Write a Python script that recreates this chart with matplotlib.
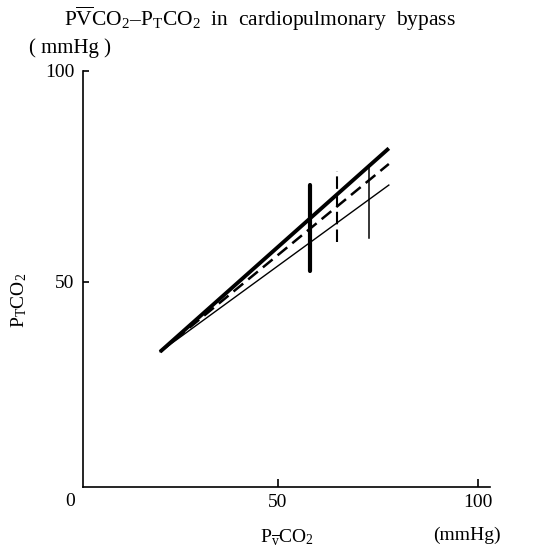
import matplotlib
matplotlib.use("Agg")
import matplotlib.pyplot as plt

plt.rcParams['font.family'] = ['Liberation Serif', 'DejaVu Serif']
plt.rcParams['mathtext.fontset'] = 'custom'
plt.rcParams['mathtext.rm'] = 'Liberation Serif'
plt.rcParams['mathtext.it'] = 'Liberation Serif:italic'

# Data
x_ends = [20.6, 77.8]
y_thick = [33.4, 81.6]
y_dashed = [33.4, 77.9]
y_thin = [33.4, 72.9]

bar_x = [58.2, 64.75, 72.9]
bar_lo = [52.5, 59.5, 60.3]
bar_hi = [72.9, 76.3, 77.7]

xticks = [50, 100]
yticks = [50, 100]

fig = plt.figure(figsize=(5.34, 5.49), dpi=100)
ax = fig.add_axes([0.1549, 0.1129, 0.7627, 0.7583])
ax.set_xlim(1.25, 103.1)
ax.set_ylim(1.35, 100)

ax.plot(x_ends, y_thick, color='black', lw=2.8, solid_capstyle='butt')
ax.plot(x_ends, y_dashed, color='black', lw=1.8, dashes=(5, 2.6))
ax.plot(x_ends, y_thin, color='black', lw=1.0)

ax.plot([bar_x[0]] * 2, [bar_lo[0], bar_hi[0]], color='black', lw=3.0, solid_capstyle='round')
ax.plot([bar_x[1]] * 2, [bar_lo[1], bar_hi[1]], color='black', lw=1.5, dashes=(6, 2.5))
ax.plot([bar_x[2]] * 2, [bar_lo[2], bar_hi[2]], color='black', lw=1.1)

for s in ['top', 'right']:
    ax.spines[s].set_visible(False)
for s in ['left', 'bottom']:
    ax.spines[s].set_linewidth(1.2)

ax.set_xticks(xticks)
ax.set_xticklabels([str(t) for t in xticks], fontsize=14)
ax.set_yticks(yticks)
ax.set_yticklabels([str(t) for t in yticks], fontsize=14)
ax.tick_params(axis='x', direction='in', length=5.5, width=1.2, pad=5)
ax.tick_params(axis='y', direction='in', length=4.5, width=1.2, pad=6)

fig.text(70 / 534, 1 - 501 / 549, '0', fontsize=14, ha='center', va='center')
fig.text(70 / 534, 1 - 48 / 549, '( mmHg )', fontsize=15, ha='center', va='center')
fig.text(467 / 534, 1 - 535 / 549, '(mmHg)', fontsize=14, ha='center', va='center')
fig.text(287 / 534, 1 - 538 / 549, r'P$_{\overline{\rm v}}$CO$_2$', fontsize=14,
         ha='center', va='center')
fig.text(19 / 534, 1 - 300 / 549, r'P$_{\rm T}$CO$_2$', fontsize=14,
         ha='center', va='center', rotation=90)
fig.text(260 / 534, 1 - 19 / 549,
         r'P$\overline{\rm V}$CO$_2$–P$_{\rm T}$CO$_2$  in  cardiopulmonary  bypass',
         fontsize=15.5, ha='center', va='center')

fig.savefig('out.png', dpi=100)
